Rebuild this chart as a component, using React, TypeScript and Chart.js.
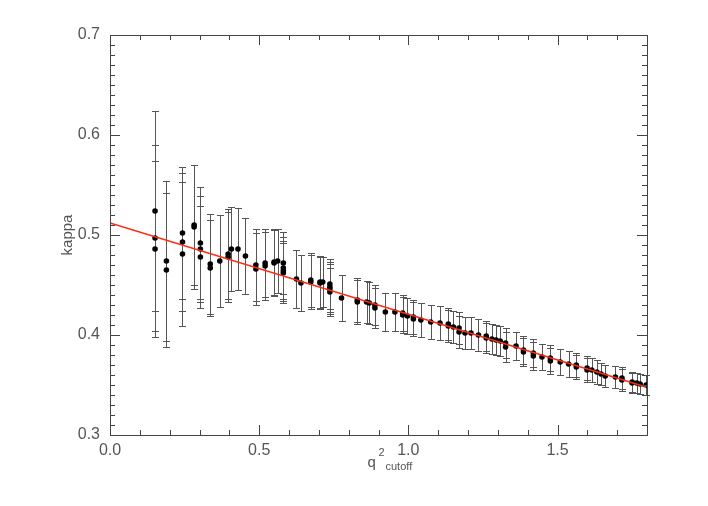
import React, { useEffect, useRef } from "react";
import { Chart, registerables } from "chart.js";

Chart.register(...registerables);

// q^2 cutoff positions
const qCut = [
  0.151, 0.151, 0.151, 0.189, 0.189, 0.243, 0.243, 0.243, 0.282, 0.282,
  0.303, 0.303, 0.303, 0.336, 0.336, 0.368, 0.396, 0.396, 0.407, 0.429,
  0.454, 0.489, 0.489, 0.52, 0.52, 0.55, 0.55, 0.562, 0.581, 0.581,
  0.581, 0.581, 0.625, 0.64, 0.673, 0.673, 0.704, 0.704, 0.713, 0.737,
  0.737, 0.737, 0.737, 0.776, 0.829, 0.829, 0.86, 0.869, 0.888, 0.888,
  0.923, 0.955, 0.981, 0.981, 0.997, 1.017, 1.017, 1.042, 1.075, 1.106,
  1.134, 1.134, 1.151, 1.17, 1.17, 1.19, 1.21, 1.235, 1.261, 1.261,
  1.28, 1.294, 1.308, 1.326, 1.326, 1.361, 1.386, 1.386, 1.419, 1.419,
  1.448, 1.476, 1.476, 1.509, 1.537, 1.563, 1.563, 1.599, 1.599, 1.615,
  1.632, 1.646, 1.66, 1.694, 1.716, 1.716, 1.75, 1.75, 1.766, 1.777,
  1.797,
];

// kappa values
const kappa = [
  0.524, 0.497, 0.486, 0.474, 0.465, 0.502, 0.493, 0.481, 0.51, 0.508,
  0.492, 0.486, 0.478, 0.471, 0.467, 0.474, 0.481, 0.478, 0.486, 0.486,
  0.479, 0.47, 0.466, 0.472, 0.469, 0.472, 0.473, 0.474, 0.472, 0.467,
  0.464, 0.462, 0.456, 0.452, 0.455, 0.453, 0.453, 0.452, 0.453, 0.451,
  0.448, 0.446, 0.443, 0.437, 0.435, 0.433, 0.433, 0.432, 0.43, 0.427,
  0.423, 0.423, 0.422, 0.42, 0.419, 0.418, 0.416, 0.415, 0.413, 0.412,
  0.411, 0.409, 0.408, 0.407, 0.403, 0.402, 0.402, 0.4, 0.399, 0.397,
  0.396, 0.395, 0.394, 0.392, 0.388, 0.389, 0.385, 0.383, 0.382, 0.379,
  0.378, 0.377, 0.374, 0.373, 0.371, 0.37, 0.368, 0.367, 0.365, 0.365,
  0.363, 0.361, 0.359, 0.358, 0.357, 0.355, 0.353, 0.352, 0.352, 0.351,
  0.35,
];

// symmetric errors on kappa
const kappaErr = [
  0.1, 0.093, 0.088, 0.08, 0.077, 0.066, 0.069, 0.072, 0.06, 0.062,
  0.056, 0.053, 0.051, 0.05, 0.048, 0.046, 0.045, 0.045, 0.042, 0.041,
  0.038, 0.036, 0.036, 0.034, 0.034, 0.033, 0.033, 0.032, 0.031, 0.031,
  0.03, 0.03, 0.029, 0.028, 0.027, 0.027, 0.026, 0.026, 0.025, 0.025,
  0.025, 0.025, 0.024, 0.023, 0.022, 0.022, 0.021, 0.021, 0.02, 0.02,
  0.019, 0.019, 0.018, 0.018, 0.018, 0.017, 0.017, 0.017, 0.017, 0.017,
  0.016, 0.016, 0.016, 0.016, 0.016, 0.016, 0.016, 0.016, 0.015, 0.015,
  0.015, 0.015, 0.015, 0.015, 0.015, 0.014, 0.014, 0.014, 0.014, 0.014,
  0.013, 0.013, 0.013, 0.013, 0.013, 0.012, 0.012, 0.012, 0.012, 0.012,
  0.012, 0.011, 0.011, 0.011, 0.011, 0.011, 0.01, 0.01, 0.01, 0.01,
  0.01,
];

// linear fit
const fitX = [0, 1.797];
const fitY = [0.512, 0.348];

const xTickValues = [0, 0.5, 1.0, 1.5];
const yTickValues = [0.3, 0.4, 0.5, 0.6, 0.7];

const FONT = "'Liberation Sans', Arial, sans-serif";
const AXIS_COLOR = "#444";
const TEXT_COLOR = "#555";

const errorBarPlugin = {
  id: "errorBars",
  beforeDatasetsDraw(chart: any) {
    const { ctx, scales } = chart;
    const xs = scales.x;
    const ys = scales.y;
    ctx.save();
    ctx.strokeStyle = "#555";
    ctx.lineWidth = 1;
    for (let i = 0; i < qCut.length; i++) {
      const px = Math.round(xs.getPixelForValue(qCut[i])) + 0.5;
      const top = Math.round(ys.getPixelForValue(kappa[i] + kappaErr[i])) + 0.5;
      const bot = Math.round(ys.getPixelForValue(kappa[i] - kappaErr[i])) + 0.5;
      ctx.beginPath();
      ctx.moveTo(px, top);
      ctx.lineTo(px, bot);
      ctx.moveTo(px - 3.5, top);
      ctx.lineTo(px + 3.5, top);
      ctx.moveTo(px - 3.5, bot);
      ctx.lineTo(px + 3.5, bot);
      ctx.stroke();
    }
    ctx.restore();
  },
};

const framePlugin = {
  id: "frame",
  afterDraw(chart: any) {
    const { ctx, chartArea, scales } = chart;
    const xs = scales.x;
    const ys = scales.y;
    const { left, right, top, bottom } = chartArea;
    ctx.save();
    ctx.strokeStyle = AXIS_COLOR;
    ctx.lineWidth = 1;
    ctx.strokeRect(Math.round(left) + 0.5, Math.round(top) + 0.5, Math.round(right - left), Math.round(bottom - top));
    ctx.beginPath();
    // x ticks (bottom and top)
    for (let i = 0; i <= 18; i++) {
      const v = i / 10;
      const px = Math.round(xs.getPixelForValue(v)) + 0.5;
      const len = i % 5 === 0 ? 10 : 5;
      ctx.moveTo(px, bottom);
      ctx.lineTo(px, bottom - len);
      ctx.moveTo(px, top);
      ctx.lineTo(px, top + len);
    }
    // y ticks (left and right)
    for (let i = 0; i <= 40; i++) {
      const v = 0.3 + i / 100;
      const py = Math.round(ys.getPixelForValue(v)) + 0.5;
      const len = i % 10 === 0 ? 10 : 5;
      ctx.moveTo(left, py);
      ctx.lineTo(left + len, py);
      ctx.moveTo(right, py);
      ctx.lineTo(right - len, py);
    }
    ctx.stroke();

    // axis titles
    ctx.fillStyle = TEXT_COLOR;
    ctx.textBaseline = "alphabetic";
    ctx.textAlign = "left";
    const cx = (left + right) / 2;
    ctx.font = `15px ${FONT}`;
    ctx.fillText("q", cx - 11, bottom + 32);
    ctx.font = `11px ${FONT}`;
    ctx.fillText("2", cx + 0, bottom + 21);
    ctx.fillText("cutoff", cx + 7, bottom + 35);

    ctx.save();
    ctx.translate(72, (top + bottom) / 2);
    ctx.rotate(-Math.PI / 2);
    ctx.textAlign = "center";
    ctx.font = `15px ${FONT}`;
    ctx.fillText("kappa", 0, 0);
    ctx.restore();
    ctx.restore();
  },
};

export default function App() {
  const ref = useRef<HTMLCanvasElement | null>(null);
  useEffect(() => {
    if (!ref.current) return;
    const points = qCut.map((q, i) => ({ x: q, y: kappa[i] }));
    const fit = fitX.map((q, i) => ({ x: q, y: fitY[i] }));
    const chart = new Chart(ref.current, {
      type: "scatter",
      data: {
        datasets: [
          {
            type: "line",
            data: fit,
            borderColor: "#ff2a10",
            borderWidth: 1.5,
            pointRadius: 0,
            fill: false,
          } as any,
          {
            data: points,
            backgroundColor: "#000",
            borderColor: "#000",
            pointRadius: 2.8,
            borderWidth: 0,
          },
        ],
      },
      plugins: [errorBarPlugin, framePlugin],
      options: {
        animation: false,
        responsive: false,
        layout: { padding: { left: 0, top: 35, right: 61, bottom: 0 } },
        plugins: { legend: { display: false }, tooltip: { enabled: false } },
        scales: {
          x: {
            type: "linear",
            min: 0,
            max: 1.8,
            afterBuildTicks: (s: any) => {
              s.ticks = xTickValues.map((v) => ({ value: v }));
            },
            ticks: {
              callback: (v: any) => Number(v).toFixed(1),
              font: { family: FONT, size: 16 },
              color: TEXT_COLOR,
              padding: 6,
              maxRotation: 0,
              autoSkip: false,
            },
            grid: { display: false, drawTicks: false },
            border: { display: false },
            afterFit: (s: any) => {
              s.height = 71;
            },
          },
          y: {
            type: "linear",
            min: 0.3,
            max: 0.7,
            afterBuildTicks: (s: any) => {
              s.ticks = yTickValues.map((v) => ({ value: v }));
            },
            ticks: {
              callback: (v: any) => Number(v).toFixed(1),
              font: { family: FONT, size: 16 },
              color: TEXT_COLOR,
              padding: 10,
              autoSkip: false,
            },
            grid: { display: false, drawTicks: false },
            border: { display: false },
            afterFit: (s: any) => {
              s.width = 110;
            },
          },
        },
      },
    });
    return () => chart.destroy();
  }, []);
  return (
    <div style={{ position: "fixed", left: 0, top: 0, width: 708, height: 506, background: "#fff" }}>
      <canvas ref={ref} width={708} height={506} style={{ width: 708, height: 506 }} />
    </div>
  );
}
